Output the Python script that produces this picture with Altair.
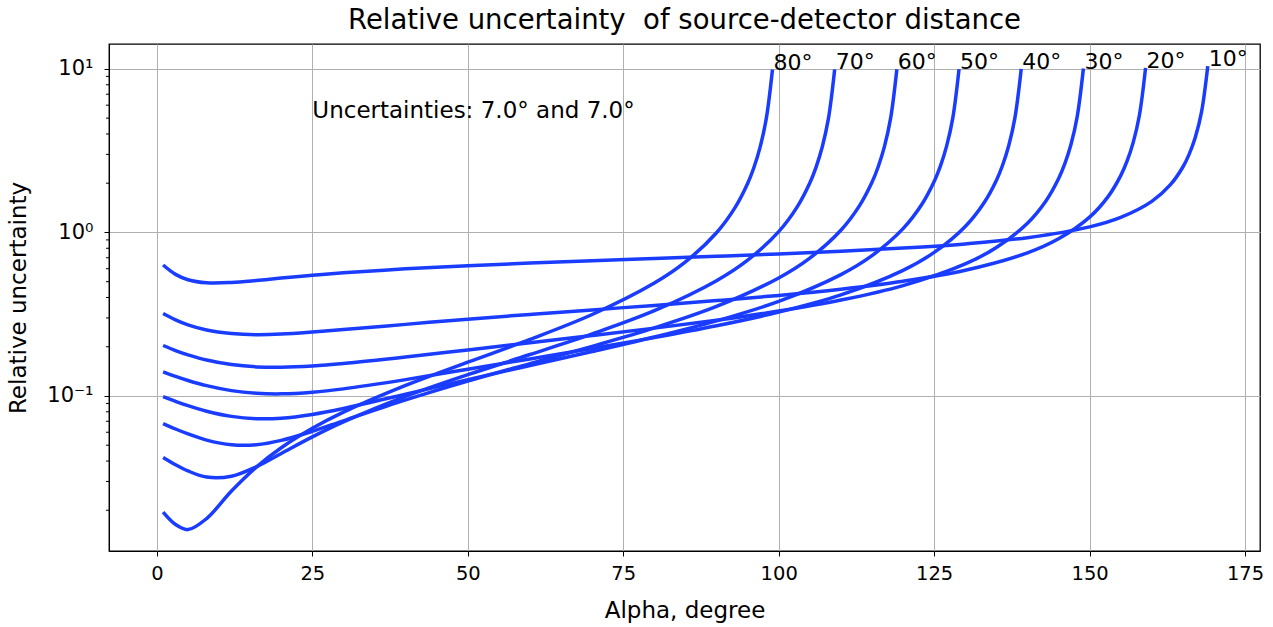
import altair as alt
import pandas as pd

# ---- data (alpha in degrees, relative uncertainty) ----
A10 = [1, 3, 5, 8, 12, 16, 20, 25, 30, 40, 50, 60, 70, 80, 90, 100, 110, 120, 130, 140,
       150, 155, 160, 163, 165, 166, 167, 168, 169]
V10 = [0.632, 0.554, 0.514, 0.492, 0.494, 0.508, 0.526, 0.547, 0.566, 0.599,
       0.626, 0.650, 0.672, 0.693, 0.715, 0.739, 0.767, 0.802, 0.851, 0.929,
       1.082, 1.236, 1.549, 1.959, 2.513, 3.001, 3.818, 5.460, 10.40]

A20 = [1, 3, 5, 8, 12, 16, 20, 25, 30, 40, 50, 60, 70, 80, 90, 100, 110, 120, 130, 140,
       145, 150, 153, 155, 156, 157, 158, 159]
V20 = [0.319, 0.292, 0.272, 0.253, 0.241, 0.237, 0.239, 0.246, 0.255, 0.274,
       0.295, 0.315, 0.336, 0.358, 0.383, 0.412, 0.450, 0.503, 0.587, 0.750,
       0.914, 1.240, 1.661, 2.225, 2.718, 3.542, 5.191, 10.14]

A30 = [1, 3, 5, 8, 12, 16, 20, 25, 30, 40, 50, 60, 70, 80, 90, 100, 110, 120,
       130, 135, 140, 143, 145, 146, 147, 148, 149]
V30 = [0.2035, 0.1896, 0.1784, 0.1658, 0.1555, 0.1506, 0.1497, 0.1523, 0.1577, 0.1729,
       0.1913, 0.2116, 0.2341, 0.2599, 0.2908, 0.3304, 0.3858, 0.4732,
       0.6419, 0.8084, 1.139, 1.564, 2.130, 2.625, 3.449, 5.100, 10.05]

A40 = [1, 3, 5, 8, 12, 16, 20, 25, 30, 40, 50, 60, 70, 80, 90, 100, 110,
       120, 125, 130, 133, 135, 136, 137, 138, 139]
V40 = [0.1406, 0.1318, 0.1244, 0.1156, 0.1078, 0.1039, 0.1030, 0.1054, 0.1105, 0.1259,
       0.1456, 0.1685, 0.1952, 0.2274, 0.2685, 0.3256, 0.4152,
       0.5867, 0.7548, 1.088, 1.514, 2.080, 2.576, 3.401, 5.052, 10.00]

A50 = [1, 3, 5, 8, 12, 16, 20, 25, 30, 40, 50, 60, 70, 80, 90, 100,
       110, 115, 120, 123, 125, 126, 127, 128, 129]
V50 = [0.0990, 0.0927, 0.0872, 0.0807, 0.0750, 0.0726, 0.0731, 0.0771, 0.0838, 0.1025,
       0.1259, 0.1536, 0.1869, 0.2292, 0.2877, 0.3787,
       0.5519, 0.7209, 1.055, 1.481, 2.048, 2.544, 3.370, 5.021, 9.971]

A60 = [1, 3, 5, 8, 12, 16, 20, 25, 30, 40, 50, 60, 70, 80, 90,
       100, 105, 110, 113, 115, 116, 117, 118, 119]
V60 = [0.0678, 0.0628, 0.0586, 0.0537, 0.0503, 0.0503, 0.0535, 0.0608, 0.0705, 0.0946,
       0.1233, 0.1577, 0.2011, 0.2606, 0.3527,
       0.5269, 0.6965, 1.031, 1.458, 2.025, 2.521, 3.347, 4.998, 9.948]

A70 = [1, 3, 5, 8, 12, 16, 20, 25, 30, 40, 50, 60, 70, 80,
       90, 95, 100, 103, 105, 106, 107, 108, 109]
V70 = [0.0421, 0.0380, 0.0348, 0.0319, 0.0323, 0.0369, 0.0445, 0.0562, 0.0694, 0.0994,
       0.1349, 0.1792, 0.2395, 0.3322,
       0.5070, 0.6770, 1.012, 1.439, 2.006, 2.502, 3.328, 4.980, 9.930]

A80 = [1, 3, 5, 8, 12, 16, 20, 25, 30, 40, 50, 60, 70,
       80, 85, 90, 93, 95, 96, 97, 98, 99]
V80 = [0.01948, 0.01636, 0.01523, 0.0178, 0.0262, 0.0367, 0.0482, 0.0634, 0.0796, 0.1160,
       0.1609, 0.2217, 0.3148,
       0.4901, 0.6602, 0.9951, 1.422, 1.990, 2.486, 3.312, 4.964, 9.914]

SERIES_LABELS = ["10°", "20°", "30°", "40°", "50°", "60°", "70°", "80°"]
SERIES_X = [A10, A20, A30, A40, A50, A60, A70, A80]
SERIES_Y = [V10, V20, V30, V40, V50, V60, V70, V80]

X_TICKS = [0, 25, 50, 75, 100, 125, 150, 175]
Y_TICKS = [0.1, 1, 10]
Y_MINOR = [0.02, 0.03, 0.04, 0.05, 0.06, 0.07, 0.08, 0.09,
           0.2, 0.3, 0.4, 0.5, 0.6, 0.7, 0.8, 0.9,
           2, 3, 4, 5, 6, 7, 8, 9]

NOTE_TEXT = "Uncertainties: 7.0° and 7.0°"
NOTE_X = [25]
NOTE_Y = [5.0]

TITLE = "Relative uncertainty \u00a0of source-detector distance"

# ---- tables ----
rows = []
for lab, xs, ys in zip(SERIES_LABELS, SERIES_X, SERIES_Y):
    for x, y in zip(xs, ys):
        rows.append({"alpha": x, "value": y, "series": lab})
df = pd.DataFrame(rows)

ends = pd.DataFrame([{"alpha": xs[-1], "value": ys[-1], "series": lab}
                     for lab, xs, ys in zip(SERIES_LABELS, SERIES_X, SERIES_Y)])
note = pd.DataFrame({"alpha": NOTE_X, "value": NOTE_Y, "text": [NOTE_TEXT]})
minor = pd.DataFrame({"value": Y_MINOR})

BLUE = "#1a3cff"
FONT = "DejaVu Sans"
W, H = 1151, 507

x_scale = alt.Scale(domain=[-7.7, 177.4], nice=False, zero=False)
y_scale = alt.Scale(type="log", domain=[0.01127, 14.2], nice=False)

X_AXIS = alt.Axis(values=X_TICKS, title="Alpha, degree", grid=True,
                  gridColor="#b0b0b0", gridWidth=1,
                  domainColor="black", tickColor="black", tickSize=5,
                  labelFont=FONT, labelFontSize=19.5, labelColor="black",
                  labelPadding=8, labelFlush=False,
                  titleFont=FONT, titleFontSize=23, titleFontWeight="normal",
                  titleColor="black", titleX=W / 2, titleY=66,
                  titleBaseline="alphabetic", titleAnchor="middle")

Y_AXIS = alt.Axis(values=Y_TICKS, title="Relative uncertainty", grid=True,
                  gridColor="#b0b0b0", gridWidth=1,
                  labelExpr="datum.value >= 5 ? '10¹' : (datum.value >= 0.5 ? '10⁰' : '10⁻¹')",
                  domainColor="black", tickColor="black", tickSize=5,
                  labelFont=FONT, labelFontSize=21, labelColor="black",
                  labelPadding=11, labelFlush=False,
                  titleFont=FONT, titleFontSize=23, titleFontWeight="normal",
                  titleColor="black", titleX=-91, titleY=H / 2,
                  titleAngle=-90, titleBaseline="middle", titleAnchor="middle")

lines = alt.Chart(df).mark_line(
    interpolate="catmull-rom", strokeWidth=3.5, color=BLUE, clip=True
).encode(
    x=alt.X("alpha:Q", scale=x_scale, axis=X_AXIS),
    y=alt.Y("value:Q", scale=y_scale, axis=Y_AXIS),
    detail="series:N",
)

minor_ticks = alt.Chart(minor).mark_rule(color="black", strokeWidth=1).encode(
    y=alt.Y("value:Q", scale=y_scale, axis=Y_AXIS),
    x=alt.value(0),
    x2=alt.value(-3),
)

labels = alt.Chart(ends).mark_text(
    align="left", baseline="alphabetic", font=FONT, fontSize=22, color="black", dx=1
).encode(
    x=alt.X("alpha:Q", scale=x_scale, axis=X_AXIS),
    y=alt.Y("value:Q", scale=y_scale, axis=Y_AXIS),
    text="series:N",
)

note_text = alt.Chart(note).mark_text(
    align="left", baseline="alphabetic", font=FONT, fontSize=23, color="black"
).encode(
    x=alt.X("alpha:Q", scale=x_scale, axis=X_AXIS),
    y=alt.Y("value:Q", scale=y_scale, axis=Y_AXIS),
    text="text:N",
)

chart = alt.layer(lines, minor_ticks, labels, note_text).properties(
    width=W, height=H,
    title=alt.TitleParams(text=TITLE, font=FONT, fontSize=27.5, fontWeight="normal",
                          color="black", anchor="middle", offset=10),
    autosize=alt.AutoSizeParams(type="none"),
    padding={"left": 109, "top": 44, "right": 13, "bottom": 76},
    background="white",
).configure_view(stroke="black", strokeWidth=1.3)

chart.save("out.html", embed_options={"renderer": "svg", "actions": False})
